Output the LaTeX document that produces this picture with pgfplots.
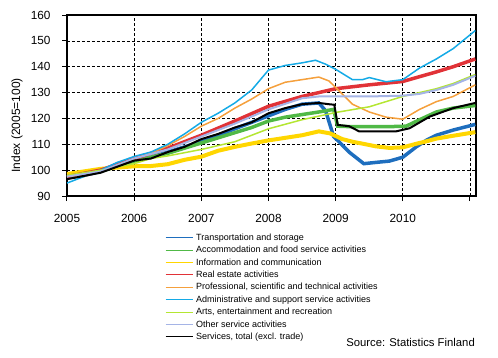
\documentclass[border=0pt]{standalone}
\usepackage{fontspec}
\setmainfont{Liberation Sans}
\usepackage{pgfplots}
\pgfplotsset{compat=1.18}
\definecolor{ctrans}{RGB}{30,110,190}
\definecolor{caccom}{RGB}{80,185,70}
\definecolor{cinfo}{RGB}{255,214,0}
\definecolor{creal}{RGB}{225,50,55}
\definecolor{cprof}{RGB}{245,160,60}
\definecolor{cadmin}{RGB}{20,170,230}
\definecolor{carts}{RGB}{180,230,50}
\definecolor{cother}{RGB}{165,180,230}
\begin{document}
\begin{tikzpicture}
\useasboundingbox (-67pt,-161pt) rectangle (431pt,196pt);
\begin{axis}[
  at={(0pt,0pt)}, anchor=south west,
  scale only axis, width=409pt, height=181pt,
  xmin=2005, xmax=2011.09, ymin=90, ymax=160,
  xtick={2005,2006,2007,2008,2009,2010,2011},
  xticklabels={2005,2006,2007,2008,2009,2010,{}},
  ytick={90,100,110,120,130,140,150,160},
  tick pos=left, tick align=outside, major tick length=5pt,
  every tick/.style={black, line width=1pt},
  grid=major,
  major grid style={black, dash pattern=on 3pt off 2pt, line width=0.7pt},
  axis line style={black, line width=1.2pt},
  tick label style={font=\fontsize{11.8}{14}\selectfont},
  yticklabel style={xshift=-8pt},
  xticklabel style={yshift=-10pt},
  /pgf/number format/assume math mode=true,
  every axis y label/.style={at={(axis description cs:-0.122,0.39)}, rotate=90, anchor=center, font=\fontsize{12}{14}\selectfont},
  ylabel={Index (2005=100)},
  legend cell align=left,
  legend image code/.code={\draw[#1] (0pt,0pt) -- (27pt,0pt);},
  legend image post style={line width=0.9pt},
  legend style={at={(rel axis cs:0,0)}, anchor=north west, xshift=98pt, yshift=-37pt,
    draw=none, fill=none, inner sep=0pt, row sep=3.4pt,
    font=\fontsize{9}{11}\selectfont,
    nodes={inner sep=0pt, text height=7pt, text depth=2pt, font=\fontsize{9}{11}\selectfont},
    /tikz/every odd column/.style={column sep=3pt}},
]
% Transportation and storage
\addplot[ctrans, line width=3.5pt] coordinates {
(2005.0,97) (2005.25,98) (2005.5,99.5) (2005.75,102.5) (2006.0,104) (2006.25,105) (2006.5,107)
(2006.75,109) (2007.0,111) (2007.25,113.5) (2007.5,116) (2007.75,118.5) (2008.0,121)
(2008.25,123.5) (2008.5,125.5) (2008.75,126) (2008.85,123) (2008.97,113) (2009.05,111)
(2009.2,107) (2009.42,102.5) (2009.6,103) (2009.8,103.5) (2010.0,105) (2010.2,109)
(2010.36,111.7) (2010.5,113.5) (2010.75,115.5) (2011.08,117.7)};
\addlegendentry{Transportation and storage}
% Accommodation and food
\addplot[caccom, line width=3.5pt] coordinates {
(2005.0,97.5) (2005.5,99.5) (2006.0,103.5) (2006.5,106.5) (2007.0,110.5) (2007.25,112.5)
(2007.5,114.5) (2007.75,116.5) (2008.0,119) (2008.25,120.5) (2008.5,121.5) (2008.75,122.5)
(2008.97,123.5) (2009.03,117) (2009.25,116.8) (2009.5,116.8) (2009.75,116.8) (2010.05,117)
(2010.25,119.5) (2010.5,122.5) (2010.75,124) (2011.08,125)};
\addlegendentry{Accommodation and food service activities}
% Information and communication
\addplot[cinfo, line width=4pt] coordinates {
(2005.0,98.5) (2005.25,99.5) (2005.5,100.5) (2005.75,101) (2006.0,101.5) (2006.25,101.6)
(2006.5,102.3) (2006.75,104) (2007.0,105.2) (2007.25,107.5) (2007.5,109) (2007.75,110.3)
(2008.0,111.5) (2008.25,112.5) (2008.5,113.5) (2008.75,115) (2008.92,114.2) (2009.1,112)
(2009.25,111) (2009.41,110.2) (2009.6,109.2) (2009.8,108.6) (2010.0,108.8) (2010.2,110.2)
(2010.36,111.2) (2010.5,112.2) (2010.75,113.3) (2011.08,114.7)};
\addlegendentry{Information and communication}
% Real estate
\addplot[creal, line width=3.5pt] coordinates {
(2005.0,97.5) (2005.5,100) (2006.0,104.5) (2006.5,108.5) (2007.0,113.5) (2007.5,119)
(2008.0,124.7) (2008.5,128.5) (2009.0,131.5) (2009.5,133) (2010.0,134.3) (2010.5,138)
(2010.75,140) (2011.08,143)};
\addlegendentry{Real estate activities}
% Professional, scientific and technical
\addplot[cprof, line width=1.5pt] coordinates {
(2005.0,98) (2005.25,97.5) (2005.5,99.5) (2005.75,102) (2006.0,104.5) (2006.25,106.5)
(2006.5,109.5) (2006.75,113) (2007.0,117) (2007.25,120) (2007.5,124) (2007.75,127.5)
(2008.0,131.5) (2008.25,134) (2008.5,135) (2008.75,136) (2008.9,134.5) (2009.0,132)
(2009.25,125.5) (2009.5,122.5) (2009.75,120.5) (2010.0,119.7) (2010.25,123.5)
(2010.5,126.5) (2010.75,128.5) (2011.08,133)};
\addlegendentry{Professional, scientific and technical activities}
% Administrative and support
\addplot[cadmin, line width=1.5pt] coordinates {
(2005.0,95) (2005.25,97.5) (2005.5,100) (2005.75,103) (2006.0,105.3) (2006.25,107)
(2006.5,110) (2006.75,114) (2007.0,118.5) (2007.25,122) (2007.5,126) (2007.75,131)
(2008.0,138.7) (2008.25,140.5) (2008.5,141.5) (2008.7,142.5) (2008.85,141) (2009.0,139)
(2009.25,135) (2009.4,135) (2009.5,135.8) (2009.75,134.2) (2010.0,135) (2010.25,139.5)
(2010.5,143) (2010.75,147) (2011.08,154)};
\addlegendentry{Administrative and support service activities}
% Arts, entertainment and recreation
\addplot[carts, line width=1.5pt] coordinates {
(2005.0,98) (2005.5,100) (2006.0,102.5) (2006.25,104.5) (2006.5,105.5) (2007.0,108)
(2007.5,111) (2008.0,116) (2008.5,119.5) (2009.0,122.3) (2009.5,124.5) (2010.0,128.5)
(2010.5,131.5) (2010.75,133.5) (2011.08,137)};
\addlegendentry{Arts, entertainment and recreation}
% Other service activities
\addplot[cother, line width=2pt] coordinates {
(2005.0,97.5) (2005.5,99.5) (2006.0,104.5) (2006.5,108) (2007.0,113) (2007.5,118)
(2008.0,123.5) (2008.5,127.8) (2008.75,128.5) (2009.0,128.5) (2009.5,128.5) (2010.0,128.8)
(2010.25,129.5) (2010.5,131) (2010.75,133) (2011.08,136.5)};
\addlegendentry{Other service activities}
% Services, total
\addplot[black, line width=2pt] coordinates {
(2005.0,96.5) (2005.5,99) (2006.0,103.7) (2006.25,104.5) (2006.5,107) (2006.75,109)
(2007.0,112) (2007.25,114) (2007.5,116.5) (2007.75,118.5) (2008.0,122) (2008.25,124)
(2008.5,125.5) (2008.75,126) (2008.9,125.5) (2008.98,125.3) (2009.03,117.5) (2009.2,117)
(2009.35,115) (2009.6,115) (2009.9,115) (2010.1,116.2) (2010.4,120.7) (2010.75,124)
(2011.08,126)};
\addlegendentry{Services, total (excl. trade)}
\end{axis}
\node[anchor=east, inner sep=0pt, font=\fontsize{11.3}{13}\selectfont] at (408pt,-146.5pt) {Source: Statistics Finland};
\end{tikzpicture}
\end{document}
